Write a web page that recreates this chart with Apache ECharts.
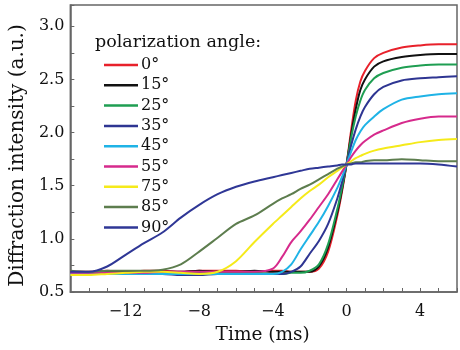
<!DOCTYPE html>
<html>
<head>
<meta charset="utf-8">
<script src="https://cdn.jsdelivr.net/npm/echarts@6/dist/echarts.min.js"></script>
<style>
  html, body { margin: 0; padding: 0; background: #fff; }
  #chart { width: 460px; height: 350px; }
</style>
</head>
<body>
<div id="chart"></div>
<script>
// time axis (ms)
var times = [-15, -14, -13, -12, -11, -10, -9, -8, -7, -6, -5, -4, -3.5, -3, -2.5, -2, -1.5, -1, -0.5, -0.25, 0, 0.25, 0.5, 0.75, 1, 1.5, 2, 3, 4, 5, 6];

// diffraction intensity for each polarization angle
var a0  = [0.69, 0.69, 0.70, 0.69, 0.70, 0.70, 0.69, 0.70, 0.70, 0.70, 0.69, 0.70, 0.70, 0.69, 0.69, 0.69, 0.72, 0.88, 1.22, 1.44, 1.70, 2.02, 2.30, 2.48, 2.58, 2.70, 2.75, 2.80, 2.82, 2.83, 2.83];
var a15 = [0.68, 0.68, 0.69, 0.69, 0.68, 0.69, 0.69, 0.70, 0.69, 0.69, 0.70, 0.69, 0.69, 0.69, 0.69, 0.69, 0.74, 0.92, 1.25, 1.46, 1.70, 1.98, 2.22, 2.40, 2.50, 2.62, 2.67, 2.71, 2.73, 2.74, 2.74];
var a25 = [0.67, 0.68, 0.68, 0.68, 0.68, 0.68, 0.68, 0.68, 0.68, 0.68, 0.68, 0.67, 0.67, 0.68, 0.68, 0.70, 0.76, 0.95, 1.28, 1.48, 1.70, 1.95, 2.15, 2.30, 2.40, 2.51, 2.56, 2.61, 2.63, 2.64, 2.64];
var a35 = [0.68, 0.68, 0.68, 0.67, 0.67, 0.67, 0.66, 0.66, 0.67, 0.67, 0.67, 0.67, 0.67, 0.69, 0.74, 0.86, 0.98, 1.14, 1.38, 1.53, 1.70, 1.88, 2.03, 2.15, 2.24, 2.36, 2.43, 2.49, 2.51, 2.52, 2.53];
var a45 = [0.67, 0.67, 0.67, 0.67, 0.67, 0.67, 0.67, 0.67, 0.67, 0.67, 0.67, 0.67, 0.69, 0.76, 0.90, 1.03, 1.16, 1.31, 1.48, 1.58, 1.70, 1.82, 1.93, 2.01, 2.07, 2.15, 2.22, 2.31, 2.34, 2.36, 2.37];
var a55 = [0.68, 0.68, 0.68, 0.68, 0.68, 0.69, 0.69, 0.69, 0.69, 0.69, 0.69, 0.72, 0.83, 0.97, 1.07, 1.18, 1.30, 1.42, 1.56, 1.63, 1.70, 1.77, 1.83, 1.88, 1.92, 1.98, 2.02, 2.09, 2.13, 2.15, 2.15];
var a75 = [0.66, 0.66, 0.67, 0.68, 0.69, 0.69, 0.68, 0.67, 0.69, 0.79, 0.97, 1.14, 1.22, 1.30, 1.38, 1.45, 1.51, 1.58, 1.64, 1.67, 1.70, 1.73, 1.76, 1.78, 1.80, 1.83, 1.85, 1.88, 1.91, 1.93, 1.94];
var a85 = [0.70, 0.69, 0.70, 0.70, 0.70, 0.71, 0.76, 0.88, 1.01, 1.14, 1.22, 1.33, 1.38, 1.42, 1.47, 1.51, 1.56, 1.61, 1.66, 1.68, 1.70, 1.71, 1.72, 1.72, 1.73, 1.74, 1.74, 1.75, 1.74, 1.73, 1.73];
var a90 = [0.69, 0.69, 0.74, 0.85, 0.96, 1.06, 1.20, 1.32, 1.42, 1.49, 1.54, 1.58, 1.60, 1.62, 1.64, 1.66, 1.67, 1.68, 1.69, 1.70, 1.70, 1.70, 1.71, 1.71, 1.71, 1.71, 1.71, 1.71, 1.71, 1.70, 1.68];

var names  = ['0°', '15°', '25°', '35°', '45°', '55°', '75°', '85°', '90°'];
var values = [a0, a15, a25, a35, a45, a55, a75, a85, a90];
var colors = ['#e8212b', '#111111', '#1f9e52', '#2e3592', '#1fb3e6', '#d62a8c', '#f5ea1a', '#5d7d4e', '#2f3796'];

var font = 'DejaVu Serif';

var chart = echarts.init(document.getElementById('chart'));

var series = names.map(function (n, i) {
  return {
    name: n,
    type: 'line',
    data: times.map(function (t, j) { return [t, values[i][j]]; }),
    symbol: 'none',
    smooth: 0.3,
    lineStyle: { width: 2, color: colors[i] },
    itemStyle: { color: colors[i] }
  };
});

var option = {
  animation: false,
  backgroundColor: '#fff',
  title: {
    text: 'polarization angle:',
    left: 90,
    top: 28,
    textStyle: { fontFamily: font, fontSize: 17.5, fontWeight: 'normal', color: '#111' }
  },
  legend: {
    data: names,
    orient: 'vertical',
    left: 99,
    top: 52,
    icon: 'rect',
    itemWidth: 34,
    itemHeight: 2.5,
    itemGap: 4.3,
    textStyle: { fontFamily: font, fontSize: 16, color: '#111', padding: [0, 0, 0, -2] }
  },
  grid: {
    left: 69,
    right: -3,
    top: 5,
    bottom: 55,
    show: true,
    borderColor: '#666',
    borderWidth: 1.5
  },
  xAxis: {
    type: 'value',
    min: -15,
    max: 6,
    interval: 1,
    name: 'Time (ms)',
    nameLocation: 'middle',
    nameGap: 34,
    nameTextStyle: { fontFamily: font, fontSize: 18.5, color: '#111', padding: [0, 2, 0, 0] },
    axisLine: { onZero: false, lineStyle: { color: '#666', width: 1.5 } },
    axisTick: { inside: true, length: 4, lineStyle: { color: '#666' } },
    axisLabel: {
      fontFamily: font, fontSize: 16, color: '#111', margin: 12,
      formatter: function (v) { return v % 4 === 0 ? String(v).replace('-', '\u2212') : ''; }
    },
    splitLine: { show: false }
  },
  yAxis: {
    type: 'value',
    min: 0.5,
    max: 3.2,
    interval: 0.25,
    name: 'Diffraction intensity (a.u.)',
    nameLocation: 'middle',
    nameGap: 39,
    nameTextStyle: { fontFamily: font, fontSize: 20, color: '#111', padding: [0, 14, 0, 0] },
    axisLine: { onZero: false, lineStyle: { color: '#666', width: 1.5 } },
    axisTick: { inside: true, length: 4, lineStyle: { color: '#666' } },
    axisLabel: {
      fontFamily: font, fontSize: 16, color: '#111', margin: 6,
      formatter: function (v) { return Math.abs(v * 2 - Math.round(v * 2)) < 1e-6 ? v.toFixed(1) : ''; }
    },
    splitLine: { show: false }
  },
  series: series
};

chart.setOption(option);
</script>
</body>
</html>
